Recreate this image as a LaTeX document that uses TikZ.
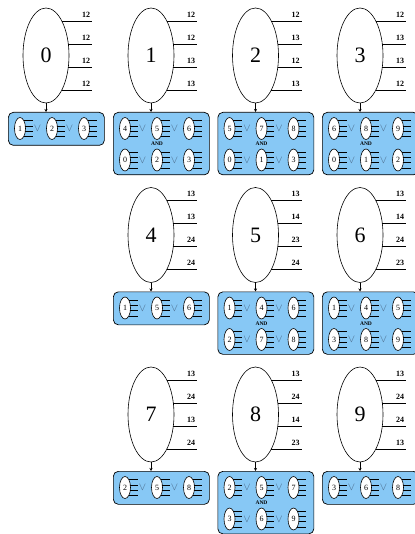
\documentclass[tikz,border=0pt]{standalone}
\usepackage{fontspec}
\setmainfont{Liberation Serif}
\usetikzlibrary{arrows.meta,calc,shapes.geometric}
\definecolor{boxblue}{HTML}{87C8F5}
\definecolor{orgray}{HTML}{4A6A8A}
\tikzset{
  big/.style={draw,ellipse,minimum width=46pt,minimum height=95pt,inner sep=0pt,
    font=\fontsize{22}{22}\selectfont,line width=0.6pt},
  small/.style={draw,ellipse,fill=white,minimum width=11pt,minimum height=22pt,inner sep=0pt,
    font=\fontsize{8}{8}\selectfont,line width=0.6pt},
  wire/.style={line width=0.6pt},
  miniwire/.style={line width=0.55pt},
  lab/.style={font=\bfseries\fontsize{8}{8}\selectfont,inner sep=0pt,anchor=south},
  panel/.style={draw,fill=boxblue,rounded corners=5pt,line width=0.7pt,
    minimum width=96pt,inner sep=0pt,anchor=north west},
  orsym/.style={text=orgray,font=\fontsize{11}{11}\selectfont,inner sep=0pt},
  andlab/.style={font=\bfseries\fontsize{5.5}{5.5}\selectfont,inner sep=0pt},
  link/.style={-{Stealth[length=3pt,width=3pt]},line width=0.5pt}
}
% big digit node: name, x, y, digit, four labels
\newcommand\bigdigit[8]{%
  \node[big] (#1) at (#2,#3) {#4};
  \foreach \dy/\dx/\t in {-34.5/15.8/#5,-11.5/22.3/#6,11.5/22.3/#7,34.5/15.8/#8}{%
    \draw[wire] ($(#1.center)+(\dx,\dy)$) -- ($(#1.center)+(46,\dy)$);
    \node[lab] at ($(#1.center)+(40,\dy-3.5)$) {\t};
  }%
}
% mini digit: name, x, y, digit
\newcommand\minidigit[4]{%
  \node[small] (#1) at (#2,#3) {#4};
  \foreach \dy/\dx in {-8/3.8,-2.7/5.3,2.7/5.3,8/3.8}{%
    \draw[miniwire] ($(#1.center)+(\dx,\dy)$) -- ($(#1.center)+(12.5,\dy)$);
  }%
}
% row of three minis with "or": name, cx, y, a, b, c
\newcommand\minirow[6]{%
  \minidigit{#1a}{#2-26}{#3}{#4}
  \minidigit{#1b}{#2+6}{#3}{#5}
  \minidigit{#1c}{#2+38}{#3}{#6}
  \node[orsym] (#1o1) at (#2-8.5,#3) {$\vee$};
  \node[orsym] (#1o2) at (#2+23.5,#3) {$\vee$};
}
% single box: name, cx, cy, a, b, c
\newcommand\singlebox[6]{%
  \node[panel,minimum height=33pt] (#1) at (#2-38,#3+56.5) {};
  \draw[link] (e#1.south) -- (e#1.south |- #1.north);
  \minirow{#1r1}{#2}{#3+73}{#4}{#5}{#6}
}
% double box: name, cx, cy, a, b, c, d, e, f
\newcommand\doublebox[9]{%
  \node[panel,minimum height=62.5pt] (#1) at (#2-38,#3+56.5) {};
  \draw[link] (e#1.south) -- (e#1.south |- #1.north);
  \minirow{#1r1}{#2}{#3+73}{#4}{#5}{#6}
  \minirow{#1r2}{#2}{#3+104.5}{#7}{#8}{#9}
  \node[andlab] (#1and) at (#2+6,#3+88.5) {AND};
}
\begin{document}
\begin{tikzpicture}[x=1pt,y=-1pt]
\useasboundingbox (0,0) rectangle (414,534);
% row 1
\bigdigit{eb0}{46}{55.5}{0}{12}{12}{12}{12}
\singlebox{b0}{46}{55.5}{1}{2}{3}
\bigdigit{eb1}{151}{55.5}{1}{12}{12}{13}{13}
\doublebox{b1}{151}{55.5}{4}{5}{6}{0}{2}{3}
\bigdigit{eb2}{255.5}{55.5}{2}{12}{13}{12}{13}
\doublebox{b2}{255.5}{55.5}{5}{7}{8}{0}{1}{3}
\bigdigit{eb3}{360}{55.5}{3}{12}{13}{13}{12}
\doublebox{b3}{360}{55.5}{6}{8}{9}{0}{1}{2}
% row 2
\bigdigit{eb4}{151}{235}{4}{13}{13}{24}{24}
\singlebox{b4}{151}{235}{1}{5}{6}
\bigdigit{eb5}{255.5}{235}{5}{13}{14}{23}{24}
\doublebox{b5}{255.5}{235}{1}{4}{6}{2}{7}{8}
\bigdigit{eb6}{360}{235}{6}{13}{14}{24}{23}
\doublebox{b6}{360}{235}{1}{4}{5}{3}{8}{9}
% row 3
\bigdigit{eb7}{151}{414.5}{7}{13}{24}{13}{24}
\singlebox{b7}{151}{414.5}{2}{5}{8}
\bigdigit{eb8}{255.5}{414.5}{8}{13}{24}{14}{23}
\doublebox{b8}{255.5}{414.5}{2}{5}{7}{3}{6}{9}
\bigdigit{eb9}{360}{414.5}{9}{13}{24}{24}{13}
\singlebox{b9}{360}{414.5}{3}{6}{8}
\end{tikzpicture}
\end{document}
